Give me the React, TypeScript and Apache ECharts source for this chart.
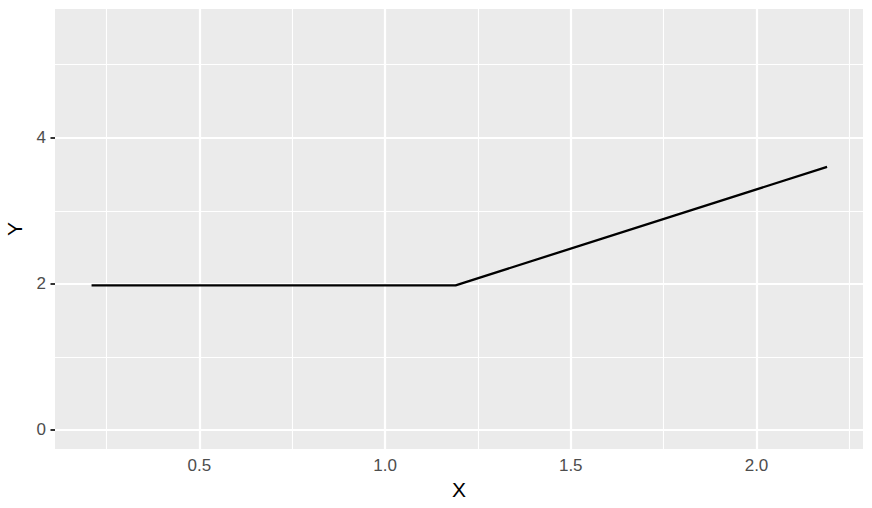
import React, { useEffect, useRef } from "react";
import * as echarts from "echarts";

const xValues = [0.21, 1.19, 2.19];
const yValues = [1.98, 1.98, 3.6];
const xTicks = [0.5, 1.0, 1.5, 2.0];
const xMinorGrid = [0.25, 0.75, 1.25, 1.75, 2.25];
const yTicks = [0, 2, 4];
const yMinorGrid = [1, 3, 5];
const xRange = [0.1116, 2.2867];
const yRange = [-0.26, 5.761];
const xTitle = "X";
const yTitle = "Y";

export default function App() {
  const ref = useRef<HTMLDivElement>(null);
  useEffect(() => {
    document.body.style.margin = "0";
    const chart = echarts.init(ref.current!, null, { renderer: "svg" });
    const font = "'Liberation Sans', Arial, Helvetica, sans-serif";
    const gridLines: any[] = [
      ...xMinorGrid.map((v) => ({ xAxis: v, lineStyle: { width: 1.1 } })),
      ...yMinorGrid.map((v) => ({ yAxis: v, lineStyle: { width: 1.1 } })),
      ...xTicks.map((v) => ({ xAxis: v, lineStyle: { width: 2.2 } })),
      ...yTicks.map((v) => ({ yAxis: v, lineStyle: { width: 2.2 } })),
    ];
    const data = xValues.map((x, i) => [x, yValues[i]]);
    chart.setOption({
      animation: false,
      grid: {
        left: 55,
        right: 9,
        top: 9,
        bottom: 59,
        show: true,
        backgroundColor: "#EBEBEB",
        borderWidth: 0,
        containLabel: false,
        outerBoundsMode: "none",
      },
      xAxis: {
        type: "value",
        min: xRange[0],
        max: xRange[1],
        axisLine: { show: false },
        splitLine: { show: false },
        axisTick: {
          show: true,
          customValues: xTicks,
          length: 4.5,
          lineStyle: { color: "#333333", width: 2 },
        },
        axisLabel: {
          customValues: xTicks,
          formatter: (v: number) => v.toFixed(1),
          color: "#4D4D4D",
          fontSize: 17,
          fontFamily: font,
          margin: 8,
        },
        name: xTitle,
        nameLocation: "middle",
        nameGap: 30,
        nameTextStyle: { color: "#000000", fontSize: 21, fontFamily: font },
      },
      yAxis: {
        type: "value",
        min: yRange[0],
        max: yRange[1],
        axisLine: { show: false },
        splitLine: { show: false },
        axisTick: {
          show: true,
          customValues: yTicks,
          length: 4.5,
          lineStyle: { color: "#333333", width: 2 },
        },
        axisLabel: {
          customValues: yTicks,
          formatter: (v: number) => String(v),
          color: "#4D4D4D",
          fontSize: 17,
          fontFamily: font,
          margin: 9,
        },
        name: yTitle,
        nameLocation: "middle",
        nameGap: 30,
        nameRotate: 90,
        nameTextStyle: { color: "#000000", fontSize: 21, fontFamily: font },
      },
      series: [
        {
          type: "line",
          z: 1,
          data,
          showSymbol: false,
          silent: true,
          lineStyle: { width: 0, opacity: 0 },
          markLine: {
            silent: true,
            symbol: "none",
            label: { show: false },
            lineStyle: { color: "#FFFFFF", type: "solid" },
            emphasis: { disabled: true },
            data: gridLines,
          },
        },
        {
          type: "line",
          z: 5,
          data,
          showSymbol: false,
          silent: true,
          lineStyle: { color: "#000000", width: 2.3 },
        },
      ],
    });
    return () => chart.dispose();
  }, []);
  return <div ref={ref} style={{ width: 872, height: 508 }} />;
}
